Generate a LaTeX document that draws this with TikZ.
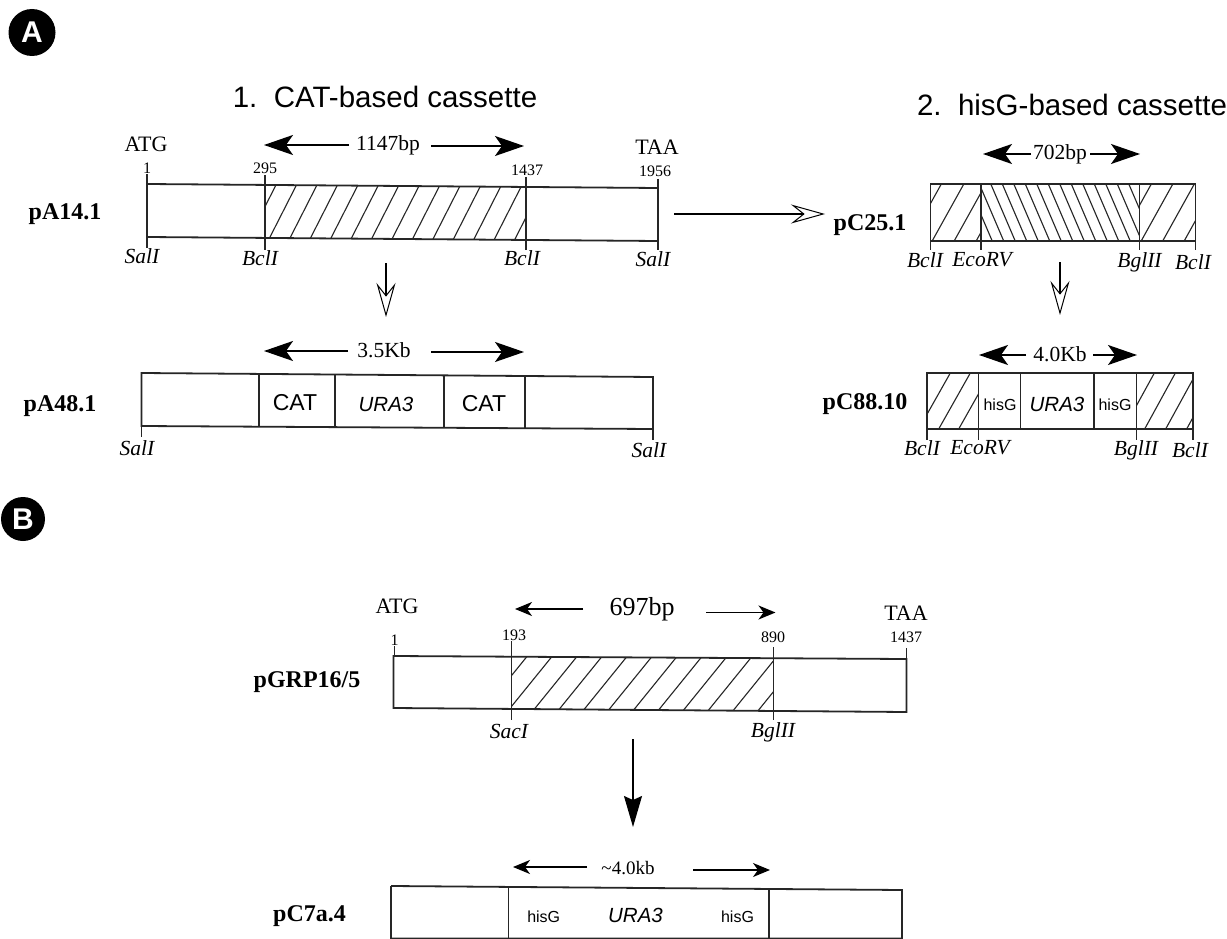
\documentclass[tikz,border=0pt]{standalone}
\usepackage{fontspec}
\setmainfont{Liberation Serif}
\setsansfont{Liberation Sans}
\usetikzlibrary{arrows.meta}
\newcommand\fs[1]{\fontsize{#1}{#1}\selectfont}
\newcommand\conn[6]{\coordinate (#2a) at (#3,#4); \coordinate (#2b) at (#5,#6); \draw[#1] (#2a) -- (#2b);}
\newcommand\hatchbar[8]{% x1,x2, ytl,ytr,ybl,ybr, start list, dx
  \begin{scope}\clip (#1,#3) -- (#2,#4) -- (#2,#6) -- (#1,#5) -- cycle;
  \foreach \q in {#7} \draw[hatchline] (\q,#5+3) -- ({\q+#8},#3-3);
  \end{scope}}
\tikzset{
  bar/.style={line width=1.8pt,draw=black!85},
  tick/.style={line width=1.2pt,draw=black!85},
  hatchline/.style={line width=1.1pt,draw=black!85},
  fatarrow/.style={line width=1.6pt,-{Stealth[length=29pt,width=20pt,inset=7pt]}},
  thinarrow/.style={line width=1.4pt,-{Stealth[length=17pt,width=14pt,inset=5pt]}},
  openarrow/.style={line width=1.2pt,-{Stealth[open,length=34pt,width=19pt,inset=12pt,line width=1pt]}},
  blackarrow/.style={line width=1.5pt,-{Stealth[length=31pt,width=18pt,inset=4pt]}},
  plasmid/.style={font=\bfseries\fs{24},inner sep=0pt},
  siteL/.style={font=\itshape\fs{21.5},inner sep=0pt},
  num/.style={font=\fs{16},inner sep=0pt},
  codon/.style={font=\fs{22},inner sep=0pt},
  size/.style={font=\fs{21.5},inner sep=0pt},
  gene/.style={font=\sffamily\fs{23},inner sep=0pt},
  geneI/.style={font=\sffamily\itshape\fs{20.5},inner sep=0pt},
  small/.style={font=\sffamily\fs{16},inner sep=0pt},
  title/.style={font=\sffamily\fs{29.5},inner sep=0pt},
  panel/.style={circle,fill=black,text=white,font=\sffamily\bfseries\fs{30},inner sep=0pt}
}
\begin{document}
\begin{tikzpicture}[x=1pt,y=-1pt]
\useasboundingbox (0,0) rectangle (1227,939);
\fill[white] (0,0) rectangle (1227,939);

% panels
\node[panel,minimum size=47pt] (pa) at (32,32.5) {A};
\node[panel,minimum size=44pt] (pb) at (23,519) {B};

% titles
\node[title] (t1) at (385,97) {1.\ \ CAT-based cassette};
\node[title] (t2) at (1072,105) {2.\ \ hisG-based cassette};

% ---------- pA14.1
\hatchbar{265}{526}{185}{187}{238}{240}{227,247.5,268,288.5,309,329.5,350,370.5,391,411.5,432,452.5,473,493.5,514}{30}
\draw[bar] (147,184) -- (658,188) (147,237) -- (658,241);
\draw[tick] (147,174) -- (147,248) (265,175) -- (265,250) (526,177) -- (526,250) (658,179) -- (658,250);
\node[plasmid] (n1) at (65,214) {pA14.1};
\node[codon] (atg1) at (146,144) {ATG};
\node[codon] (taa1) at (657,147) {TAA};
\node[num] (a1) at (147,168) {1};
\node[num] (a2) at (265,168) {295};
\node[num] (a3) at (527,170) {1437};
\node[num] (a4) at (655,171) {1956};
\node[siteL] (s1) at (142,256) {SalI};
\node[siteL] (s2) at (260,258) {BclI};
\node[siteL] (s3) at (522,258) {BclI};
\node[siteL] (s4) at (653,259) {SalI};
\node[size] (l1) at (388,145) {1147bp};
\conn{fatarrow}{ar1}{349}{145}{264}{145}
\conn{fatarrow}{ar2}{431}{146}{524}{146}
\conn{openarrow}{ar3}{386}{263}{386}{317}
\conn{openarrow}{ar4}{674}{214}{825}{214}

% ---------- pA48.1
\draw[bar] (141.5,373) -- (653,377) -- (653,429) -- (141.5,426) -- cycle;
\draw[tick] (259,374) -- (259,427) (335,375) -- (335,427) (444,376) -- (444,428) (525,376) -- (525,428);
\draw[tick] (141.5,426) -- (141.5,437) (653,429) -- (653,440);
\node[plasmid] (n2) at (60,406) {pA48.1};
\node[gene] (c1) at (295,403) {CAT};
\node[geneI] (u1) at (386,404) {URA3};
\node[gene] (c2) at (484,404) {CAT};
\node[siteL] (s5) at (137,448) {SalI};
\node[siteL] (s6) at (649,450) {SalI};
\node[size] (l2) at (384,350) {3.5Kb};
\conn{fatarrow}{ar5}{348}{351}{264}{351}
\conn{fatarrow}{ar6}{431}{352}{524}{352}

% ---------- pC25.1
\hatchbar{930.5}{981}{184}{184}{241}{241}{908,930.5,952.5,974.5}{35}
\hatchbar{1139.5}{1195.5}{184}{184}{241}{241}{1118,1139.5,1161,1182.5}{35}
\begin{scope}
\clip (981,184) rectangle (1139.5,241);
\foreach \q in {955,966.5,...,1145} \draw[hatchline] (\q,181) -- ({\q+27},244);
\end{scope}
\draw[bar] (930.5,184) rectangle (1195.5,241);
\draw[tick] (981,184) -- (981,250) (1139.5,184) -- (1139.5,250) (930.5,241) -- (930.5,250) (1195.5,241) -- (1195.5,250);
\node[plasmid] (n3) at (870,225) {pC25.1};
\node[siteL] (s7) at (925,260) {BclI};
\node[siteL] (s8) at (982,260) {EcoRV};
\node[siteL] (s9) at (1139.5,262) {BglII};
\node[siteL] (s10) at (1193,262) {BclI};
\node[size] (l3) at (1060,154) {702bp};
\conn{fatarrow}{ar7}{1031}{154}{983}{154}
\conn{fatarrow}{ar8}{1090}{154}{1140}{154}
\conn{openarrow}{ar9}{1060}{262}{1060}{315}

% ---------- pC88.10
\hatchbar{927}{978.7}{373}{373}{429}{429}{917,937,957}{35}
\hatchbar{1136.6}{1193}{373}{373}{429}{429}{1122,1143,1164,1185}{34}
\draw[bar] (927,373) rectangle (1193,429);
\draw[tick] (978.7,373) -- (978.7,440) (1020.6,373) -- (1020.6,429) (1094,373) -- (1094,429) (1136.6,373) -- (1136.6,440) (927,429) -- (927,440) (1193,429) -- (1193,440);
\node[plasmid] (n4) at (865,404) {pC88.10};
\node[small] (h1) at (1000,405) {hisG};
\node[geneI] (u2) at (1057,404) {URA3};
\node[small] (h2) at (1115,405) {hisG};
\node[siteL] (s11) at (922,448) {BclI};
\node[siteL] (s12) at (980,448) {EcoRV};
\node[siteL] (s13) at (1136,450) {BglII};
\node[siteL] (s14) at (1190,450) {BclI};
\node[size] (l4) at (1060,354) {4.0Kb};
\conn{fatarrow}{ar10}{1026}{355}{979}{355}
\conn{fatarrow}{ar11}{1093}{355}{1137}{355}

% ---------- pGRP16/5
\hatchbar{511.6}{773.7}{657}{658}{709}{711}{482,507,532,557,582,607,632,657,682,707,732,757}{47}
\draw[bar] (393.5,656) -- (906.5,659) -- (906.5,712) -- (393.5,708) -- cycle;
\draw[tick] (394.5,646) -- (394.5,656) (511.6,641) -- (511.6,720) (773.7,647) -- (773.7,720) (906.5,648) -- (906.5,659);
\node[plasmid] (n5) at (307,682) {pGRP16/5};
\node[codon] (atg2) at (397,606) {ATG};
\node[codon] (taa2) at (906,613) {TAA};
\node[num] (b1) at (394.5,640) {1};
\node[num] (b2) at (514,635) {193};
\node[num] (b3) at (773,637) {890};
\node[num] (b4) at (906,637) {1437};
\node[siteL] (s15) at (509,731) {SacI};
\node[siteL] (s16) at (773,732) {BglII};
\node[size,font=\fs{26}] (l5) at (642,609) {697bp};
\conn{thinarrow}{ar12}{583}{609}{515}{609}
\conn{thinarrow}{ar13}{706}{612.5}{775.5}{612.5}
\conn{blackarrow}{ar14}{633}{739}{633}{827}

% ---------- pC7a.4
\draw[bar] (391,886) -- (902,890) -- (902,939) (391,886) -- (391,939) (391,938.5) -- (902,938.5);
\draw[tick] (508.8,887) -- (508.8,939) (769,889) -- (769,939);
\node[plasmid] (n6) at (309.5,916) {pC7a.4};
\node[small] (h3) at (543.7,917) {hisG};
\node[geneI] (u3) at (635.5,915) {URA3};
\node[small] (h4) at (737.5,917) {hisG};
\node[size,font=\fs{19}] (l6) at (628,868) {\char`~4.0kb};
\conn{thinarrow}{ar15}{587}{867}{513}{867}
\conn{thinarrow}{ar16}{693}{870}{770}{870}
\end{tikzpicture}
\end{document}
